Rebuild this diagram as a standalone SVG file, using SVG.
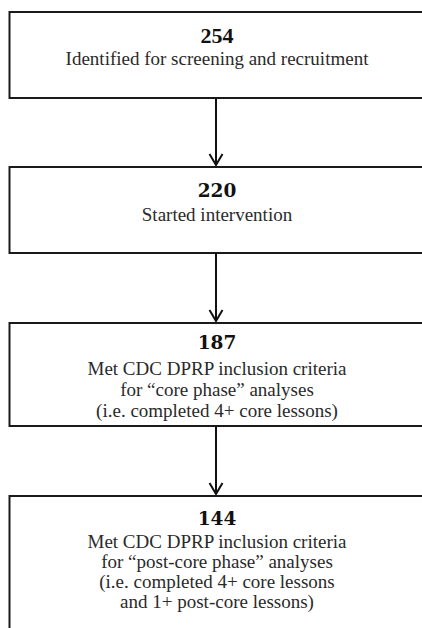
<svg xmlns="http://www.w3.org/2000/svg" width="422" height="628" viewBox="0 0 422 628">
<defs>
<style>
.box{fill:#fff;stroke:#1a1a1a;stroke-width:2}
.num{font-family:"DejaVu Serif","Liberation Serif",serif;font-weight:bold;font-size:18.5px;fill:#111;text-anchor:middle}
.num1{font-family:"Liberation Serif",serif;font-weight:bold;font-size:22px;fill:#111;text-anchor:middle}
.txt{font-family:"Liberation Serif",serif;font-size:19px;fill:#2a2a2a;text-anchor:middle}
.con{stroke:#111;stroke-width:2;fill:none}
</style>
<marker id="arr" viewBox="0 0 14 16" refX="12.5" refY="8" markerWidth="14" markerHeight="16" markerUnits="userSpaceOnUse" orient="auto">
<path d="M1.5,1.5 L12.5,8 L1.5,14.5" fill="none" stroke="#111" stroke-width="2"/>
</marker>
</defs>
<rect width="422" height="628" fill="#fff"/>
<g id="node1">
<rect class="box" x="9.5" y="12" width="430" height="86"/>
<text class="num1" x="217" y="43">254</text>
<text class="txt" x="217" y="65">Identified for screening and recruitment</text>
</g>
<g id="node2">
<rect class="box" x="9.5" y="167" width="430" height="86"/>
<text class="num" x="217" y="197">220</text>
<text class="txt" x="217" y="221">Started intervention</text>
</g>
<g id="node3">
<rect class="box" x="9.5" y="323" width="430" height="103"/>
<text class="num" x="217" y="349">187</text>
<text class="txt" x="217" y="375">Met CDC DPRP inclusion criteria</text>
<text class="txt" x="217" y="396">for “core phase” analyses</text>
<text class="txt" x="217" y="417">(i.e. completed 4+ core lessons)</text>
</g>
<g id="node4">
<rect class="box" x="9.5" y="496" width="430" height="150"/>
<text class="num" x="217" y="525">144</text>
<text class="txt" x="217" y="548">Met CDC DPRP inclusion criteria</text>
<text class="txt" x="217" y="568">for “post-core phase” analyses</text>
<text class="txt" x="217" y="588">(i.e. completed 4+ core lessons</text>
<text class="txt" x="217" y="608">and 1+ post-core lessons)</text>
</g>
<g id="connectors">
<line class="con" x1="216" y1="98" x2="216" y2="165" marker-end="url(#arr)"/>
<line class="con" x1="216" y1="253" x2="216" y2="321" marker-end="url(#arr)"/>
<line class="con" x1="216" y1="426" x2="216" y2="494" marker-end="url(#arr)"/>
</g>
</svg>
